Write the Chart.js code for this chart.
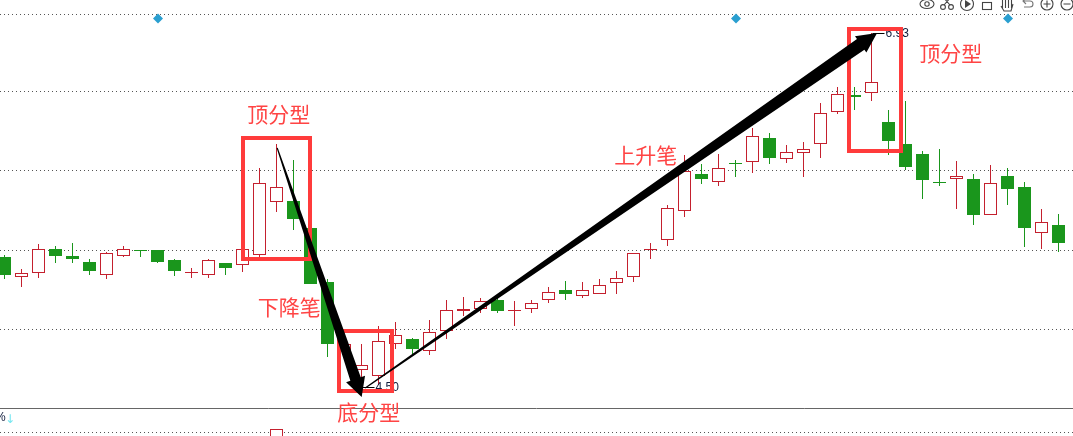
<!DOCTYPE html>
<html>
<head>
<meta charset="utf-8">
<title>顶分型 底分型 K线</title>
<script src="https://cdn.jsdelivr.net/npm/chart.js@4"></script>
<style>
    html, body { margin: 0; padding: 0; background: #fff; overflow: hidden; }
    canvas { display: block; }
</style>
</head>
<body>
<canvas id="chart" width="1073" height="436"></canvas>
<script>
// candle values, one entry per trading day
const opens = [5.392,5.253,5.285,5.447,5.399,5.358,5.271,5.401,5.440,5.438,5.372,5.285,5.271,5.351,5.339,5.408,5.768,5.777,5.591,5.221,4.752,4.619,4.573,4.797,4.830,4.745,4.882,5.024,5.037,5.097,5.024,5.033,5.095,5.166,5.123,5.136,5.212,5.253,5.440,5.507,5.706,5.962,5.905,6.038,6.042,6.209,6.063,6.104,6.166,6.386,6.502,6.516,6.319,6.168,6.099,5.907,5.926,5.928,5.683,5.948,5.873,5.555,5.612];
const closes = [5.271,5.280,5.445,5.399,5.381,5.296,5.418,5.445,5.436,5.358,5.296,5.287,5.370,5.317,5.445,5.898,5.871,5.655,5.209,4.797,4.793,4.649,4.814,4.855,4.763,4.875,5.026,5.033,5.088,5.024,5.029,5.075,5.150,5.140,5.164,5.198,5.246,5.418,5.444,5.727,5.981,5.930,6.001,6.033,6.221,6.074,6.111,6.132,6.379,6.509,6.493,6.591,6.191,6.012,5.923,5.902,5.946,5.683,5.898,5.861,5.593,5.631,5.491];
const highs = [5.404,5.308,5.482,5.466,5.488,5.379,5.427,5.466,5.440,5.438,5.379,5.317,5.379,5.351,5.445,6.003,6.168,6.058,5.591,5.239,4.836,4.795,4.919,4.946,4.836,4.960,5.097,5.118,5.109,5.138,5.090,5.097,5.186,5.228,5.221,5.241,5.296,5.418,5.488,5.749,6.092,6.031,6.099,6.058,6.278,6.244,6.161,6.182,6.449,6.559,6.559,6.930,6.401,6.463,6.120,6.134,6.051,5.962,6.024,6.003,5.907,5.722,5.688];
const lows = [5.243,5.188,5.250,5.353,5.353,5.271,5.243,5.394,5.394,5.351,5.264,5.250,5.250,5.271,5.291,5.394,5.703,5.580,5.209,4.708,4.685,4.500,4.514,4.763,4.727,4.722,4.832,4.989,5.010,5.010,4.921,5.010,5.079,5.099,5.113,5.136,5.140,5.223,5.381,5.470,5.669,5.895,5.882,5.944,5.971,6.033,6.040,5.944,6.074,6.376,6.403,6.465,6.095,5.989,5.792,5.882,5.724,5.614,5.683,5.751,5.463,5.449,5.429];
// green candles, everything else is red
const downDays = [0,3,4,5,8,9,10,13,17,18,19,24,29,33,41,43,45,50,52,53,54,55,57,59,60,62];

const gridPrices = [7.060,6.525,5.983,5.440,4.898,4.191];
const panelLines = [6.42];
const volumeDays = [16];
const volumeValues = [1.6];
const markerDays = [9.03,43.03,59.03];
const markerPrice = 7.03;

const highDay = 51;
const lowDay = 21;

// 分型 boxes: [left day, right day, top price, bottom price]
const fractalBoxes = [
    [14.03, 17.97, 6.209, 5.379],
    [19.68, 22.79, 4.884, 4.473],
    [49.68, 52.74, 6.957, 6.120]
];
// 笔 arrows: [from day, from price, to day, to price, shaft width, head length, head half width]
const strokeArrows = [
    [16.04, 6.141, 21.01, 4.431, 11, 19, 10],
    [21.22, 4.493, 51.33, 6.930, 13, 20, 10]
];
// [text, day, price]
const chartNotes = [
    ['顶分型', 16.13, 6.374],
    ['下降笔', 16.75, 5.049],
    ['底分型', 21.42, 4.328],
    ['上升笔', 37.72, 6.092],
    ['顶分型', 55.66, 6.793]
];

const RED = '#c4202e';
const GREEN = '#1a961c';
const MARK_RED = '#ff3b3b';

const days = opens.map((_, i) => i);
const isDown = i => downDays.includes(i);

const wickData = days.map(i => ({ x: i, y: [lows[i], highs[i]] }));
const bodyData = days.map(i => ({ x: i, y: [opens[i], closes[i]] }));

function drawToolbar(ctx) {
    ctx.save();
    ctx.strokeStyle = '#444';
    ctx.fillStyle = '#444';
    ctx.lineWidth = 1.1;
    const y = 4;
    // eye
    ctx.beginPath();
    ctx.ellipse(927, y, 7, 4.5, 0, 0, Math.PI * 2);
    ctx.stroke();
    ctx.beginPath();
    ctx.arc(927, y, 2.2, 0, Math.PI * 2);
    ctx.stroke();
    // scissors
    ctx.beginPath();
    ctx.arc(943, 7, 2.4, 0, Math.PI * 2);
    ctx.moveTo(953.4, 7);
    ctx.arc(951, 7, 2.4, 0, Math.PI * 2);
    ctx.moveTo(944, 5);
    ctx.lineTo(951, -3);
    ctx.moveTo(950, 5);
    ctx.lineTo(943, -3);
    ctx.stroke();
    // play
    ctx.beginPath();
    ctx.arc(967, y, 6.5, 0, Math.PI * 2);
    ctx.stroke();
    ctx.beginPath();
    ctx.moveTo(965, 0);
    ctx.lineTo(971, y);
    ctx.lineTo(965, 8);
    ctx.closePath();
    ctx.fill();
    // square
    ctx.strokeRect(982.5, 2.5, 9, 7);
    // hand
    ctx.beginPath();
    for (let k = 0; k < 4; k++) {
        ctx.moveTo(1002.5 + k * 3, 8);
        ctx.lineTo(1002.5 + k * 3, -2);
    }
    ctx.moveTo(1001, 6);
    ctx.lineTo(1004, 11);
    ctx.lineTo(1011, 11);
    ctx.lineTo(1013, 4);
    ctx.stroke();
    // undo
    ctx.strokeStyle = '#777';
    ctx.beginPath();
    ctx.moveTo(1023, 1);
    ctx.lineTo(1030, 1);
    ctx.arc(1030, 4, 3, -Math.PI / 2, Math.PI / 2);
    ctx.lineTo(1024, 7);
    ctx.moveTo(1026, -2);
    ctx.lineTo(1023, 1);
    ctx.lineTo(1026, 4);
    ctx.stroke();
    // zoom in / out
    ctx.strokeStyle = '#444';
    ctx.beginPath();
    ctx.arc(1047, y, 6, 0, Math.PI * 2);
    ctx.moveTo(1043.5, y);
    ctx.lineTo(1050.5, y);
    ctx.moveTo(1047, 0.5);
    ctx.lineTo(1047, 7.5);
    ctx.stroke();
    ctx.beginPath();
    ctx.arc(1067, y, 6, 0, Math.PI * 2);
    ctx.moveTo(1063.5, y);
    ctx.lineTo(1070.5, y);
    ctx.stroke();
    ctx.restore();
}

// keep candles on whole pixels so the thin borders stay sharp
const snapPlugin = {
    id: 'snap',
    afterDatasetsUpdate(chart) {
        chart.getSortedVisibleDatasetMetas().forEach(meta => {
            if (meta.type !== 'bar') return;
            meta.data.forEach(el => {
                el.x = Math.floor(el.x) + 0.5;
                el.y = Math.round(el.y);
                el.base = Math.round(el.base);
                if (el.base === el.y) el.base = el.y + 1;
                el.height = el.base - el.y;
            });
        });
    }
};

const overlayPlugin = {
    id: 'overlay',
    afterDatasetsDraw(chart) {
        const ctx = chart.ctx;
        const xs = chart.scales.x;
        const ys = chart.scales.y;
        const px = v => xs.getPixelForValue(v);
        const py = v => ys.getPixelForValue(v);

        // high / low price tags
        ctx.save();
        ctx.font = '12px "Liberation Sans"';
        ctx.textBaseline = 'middle';
        ctx.fillStyle = '#101c3c';
        ctx.strokeStyle = '#000';
        ctx.lineWidth = 1;
        [[highDay, highs[highDay]], [lowDay, lows[lowDay]]].forEach(([d, p]) => {
            const x = px(d), y = Math.round(py(p)) + 0.5;
            ctx.beginPath();
            ctx.moveTo(x + 1, y);
            ctx.lineTo(x + 13, y);
            ctx.stroke();
            ctx.fillText(p.toFixed(2), x + 14, y + 0.5);
        });
        ctx.restore();

        // fractal boxes
        ctx.save();
        ctx.strokeStyle = MARK_RED;
        ctx.lineWidth = 4;
        ctx.lineJoin = 'miter';
        fractalBoxes.forEach(([d0, d1, top, bottom]) => {
            const l = Math.round(px(d0)), r = Math.round(px(d1));
            const t = Math.round(py(top)), b = Math.round(py(bottom));
            ctx.strokeRect(l, t, r - l, b - t);
        });
        ctx.restore();

        // tapered arrows
        ctx.save();
        ctx.fillStyle = '#000';
        strokeArrows.forEach(([d0, p0, d1, p1, shaftW, headLen, headHalf]) => {
            const x0 = px(d0), y0 = py(p0), x1 = px(d1), y1 = py(p1);
            const len = Math.hypot(x1 - x0, y1 - y0);
            const ux = (x1 - x0) / len, uy = (y1 - y0) / len;
            const nx = -uy, ny = ux;
            const bx = x1 - ux * headLen, by = y1 - uy * headLen;
            ctx.beginPath();
            ctx.moveTo(x0 + nx * 0.6, y0 + ny * 0.6);
            ctx.lineTo(bx + nx * shaftW / 2, by + ny * shaftW / 2);
            ctx.lineTo(bx + nx * headHalf, by + ny * headHalf);
            ctx.lineTo(x1, y1);
            ctx.lineTo(bx - nx * headHalf, by - ny * headHalf);
            ctx.lineTo(bx - nx * shaftW / 2, by - ny * shaftW / 2);
            ctx.lineTo(x0 - nx * 0.6, y0 - ny * 0.6);
            ctx.closePath();
            ctx.fill();
        });
        ctx.restore();

        // notes
        ctx.save();
        ctx.font = '21px "Noto Sans CJK SC"';
        ctx.fillStyle = '#ff4444';
        ctx.textAlign = 'center';
        ctx.textBaseline = 'middle';
        chartNotes.forEach(([text, d, p]) => {
            ctx.fillText(text, px(d), py(p));
        });
        ctx.restore();

        // clipped panel title at the lower left
        ctx.save();
        ctx.textBaseline = 'middle';
        ctx.font = '12px "Liberation Sans"';
        ctx.fillStyle = '#101c3c';
        ctx.fillText('%', -5, 418);
        ctx.fillStyle = '#74e6f0';
        ctx.font = '12px "DejaVu Sans"';
        ctx.fillText('↓', 5, 420);
        ctx.restore();

        drawToolbar(ctx);
    }
};

new Chart(document.getElementById('chart'), {
    type: 'bar',
    data: {
        datasets: [
            {
                type: 'line',
                label: 'marker',
                data: markerDays.map(d => ({ x: d, y: markerPrice })),
                showLine: false,
                pointStyle: 'rectRot',
                pointRadius: 5,
                pointBorderWidth: 0,
                pointBackgroundColor: '#2a9fd0',
                order: 0
            },
            {
                label: 'body',
                data: bodyData,
                barThickness: 13,
                grouped: false,
                inflateAmount: 0,
                borderSkipped: false,
                borderWidth: 1,
                borderColor: days.map(i => isDown(i) ? GREEN : RED),
                backgroundColor: days.map(i => isDown(i) ? GREEN : '#fff'),
                order: 1
            },
            {
                label: 'wick',
                data: wickData,
                barThickness: 1,
                grouped: false,
                inflateAmount: 0,
                borderWidth: 0,
                backgroundColor: days.map(i => isDown(i) ? GREEN : RED),
                order: 2
            },
            {
                label: 'volume',
                yAxisID: 'panelY',
                data: volumeDays.map((d, k) => ({ x: d, y: [-1, volumeValues[k]] })),
                barThickness: 13,
                grouped: false,
                inflateAmount: 0,
                borderSkipped: false,
                borderWidth: 1,
                borderColor: RED,
                backgroundColor: '#fff',
                order: 3
            }
        ]
    },
    options: {
        responsive: false,
        animation: false,
        layout: { padding: 0, autoPadding: false },
        plugins: {
            legend: { display: false },
            tooltip: { enabled: false }
        },
        scales: {
            x: {
                type: 'linear',
                offset: false,
                min: -0.2647,
                max: 62.853,
                display: false
            },
            y: {
                min: 4.1637,
                max: 7.1564,
                ticks: { display: false, autoSkip: false },
                border: { display: false, dash: [1, 3] },
                grid: { color: '#555', lineWidth: 1, drawTicks: false },
                afterBuildTicks(scale) {
                    scale.ticks = gridPrices.map(value => ({ value }));
                }
            },
            panelY: {
                position: 'right',
                min: 0,
                max: 100,
                ticks: { display: false, autoSkip: false },
                border: { display: false },
                grid: { color: '#666', lineWidth: 1, drawTicks: false },
                afterBuildTicks(scale) {
                    scale.ticks = panelLines.map(value => ({ value }));
                }
            }
        }
    },
    plugins: [snapPlugin, overlayPlugin]
});
</script>
</body>
</html>
